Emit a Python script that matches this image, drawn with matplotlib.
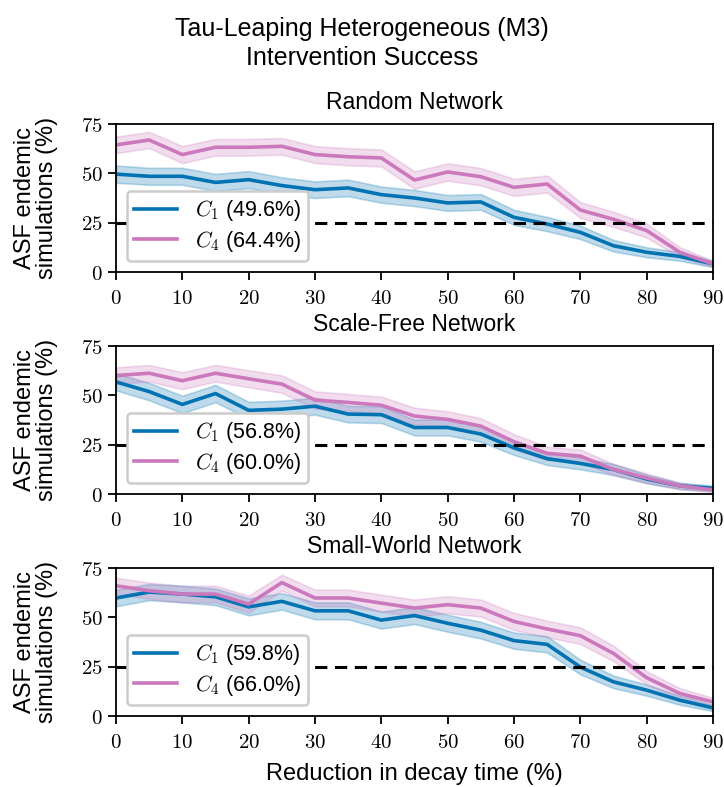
import matplotlib
matplotlib.use('Agg')
import matplotlib.pyplot as plt
import matplotlib.ticker as ticker
import numpy as np

plt.rcParams['font.family'] = ['Liberation Sans', 'DejaVu Sans']
plt.rcParams['mathtext.fontset'] = 'cm'

# == data
reduction = [0, 5, 10, 15, 20, 25, 30, 35, 40, 45, 50, 55, 60, 65, 70, 75, 80, 85, 90]

networks = ['Random Network', 'Scale-Free Network', 'Small-World Network']

random_c1 = [49.6, 48.5, 48.5, 45.4, 46.8, 43.8, 41.7, 42.6, 39.2, 37.5, 35.0, 35.5, 27.7, 24.3, 20.1, 13.3, 10.0, 7.9, 4.1]
random_c4 = [64.4, 66.9, 59.5, 63.2, 63.2, 63.7, 59.5, 58.4, 57.8, 46.6, 50.7, 48.3, 42.9, 44.6, 31.4, 26.7, 21.0, 10.0, 4.1]
scalefree_c1 = [56.8, 51.9, 45.4, 50.9, 42.4, 43.0, 44.5, 40.5, 40.2, 33.7, 33.7, 30.4, 23.4, 17.9, 15.5, 12.4, 7.6, 4.1, 2.9]
scalefree_c4 = [60.0, 61.2, 57.4, 61.2, 58.4, 55.7, 47.6, 46.4, 45.0, 39.5, 37.8, 34.4, 26.5, 20.6, 19.2, 12.4, 8.1, 4.1, 2.1]
smallworld_c1 = [59.8, 62.8, 61.8, 60.4, 55.3, 58.1, 53.3, 53.3, 48.6, 50.9, 47.0, 43.5, 38.2, 36.3, 24.8, 17.3, 13.1, 8.0, 4.1]
smallworld_c4 = [66.0, 63.5, 61.8, 61.8, 56.7, 67.6, 59.8, 59.8, 57.2, 54.7, 56.4, 54.7, 47.9, 44.1, 40.7, 31.7, 19.4, 11.4, 7.1]

# half-widths of the shaded bands (estimated by eye)
random_c1_ci = [4.4, 4.3, 4.3, 4.3, 4.3, 4.2, 4.2, 4.2, 4.1, 4.1, 4.0, 4.0, 3.8, 3.6, 3.4, 2.9, 2.5, 2.2, 1.6]
random_c4_ci = [4.2, 4.1, 4.3, 4.2, 4.2, 4.2, 4.3, 4.3, 4.3, 4.4, 4.4, 4.4, 4.3, 4.3, 4.0, 3.8, 3.5, 2.5, 1.6]
scalefree_c1_ci = [4.3, 4.4, 4.4, 4.4, 4.3, 4.3, 4.3, 4.2, 4.2, 4.0, 4.0, 3.9, 3.6, 3.2, 3.0, 2.8, 2.2, 1.6, 1.4]
scalefree_c4_ci = [4.2, 4.2, 4.3, 4.2, 4.3, 4.4, 4.4, 4.3, 4.3, 4.2, 4.1, 4.0, 3.8, 3.4, 3.3, 2.8, 2.3, 1.6, 1.2]
smallworld_c1_ci = [4.2, 4.1, 4.2, 4.2, 4.3, 4.2, 4.3, 4.3, 4.3, 4.3, 4.3, 4.2, 4.1, 4.1, 3.7, 3.2, 2.8, 2.3, 1.6]
smallworld_c4_ci = [4.0, 4.1, 4.2, 4.2, 4.3, 4.0, 4.2, 4.2, 4.3, 4.3, 4.3, 4.3, 4.3, 4.2, 4.2, 3.9, 3.3, 2.7, 2.1]

panel_c1 = [random_c1, scalefree_c1, smallworld_c1]
panel_c4 = [random_c4, scalefree_c4, smallworld_c4]
panel_c1_ci = [random_c1_ci, scalefree_c1_ci, smallworld_c1_ci]
panel_c4_ci = [random_c4_ci, scalefree_c4_ci, smallworld_c4_ci]

threshold = 25
col_c1 = '#0173b2'
col_c4 = '#cc78bc'

fig = plt.figure(figsize=(7.24, 7.87), dpi=100)
tops = [124, 346, 568]
height = 148
left, right = 116, 713

for i, name in enumerate(networks):
    ax = fig.add_axes([left / 724, 1 - (tops[i] + height) / 787, (right - left) / 724, height / 787])
    x = np.array(reduction)
    for vals, ci, col, tag in [(panel_c1[i], panel_c1_ci[i], col_c1, 'C_1'),
                               (panel_c4[i], panel_c4_ci[i], col_c4, 'C_4')]:
        v = np.array(vals)
        c = np.array(ci)
        ax.fill_between(x, v - c, v + c, color=col, alpha=0.25, linewidth=1.2)
        ax.plot(x, v, color=col, linewidth=2.6, label='${}$ ({:.1f}%)'.format(tag, vals[0]))
    ax.axhline(threshold, color='black', linestyle='--', linewidth=2.2, dashes=(4, 2.5))
    ax.set_xlim(0, 90)
    ax.set_ylim(0, 75)
    ax.xaxis.set_major_locator(ticker.MultipleLocator(10))
    ax.yaxis.set_major_locator(ticker.MultipleLocator(25))
    ax.xaxis.set_major_formatter(ticker.FuncFormatter(lambda v, p: '${:d}$'.format(int(v))))
    ax.yaxis.set_major_formatter(ticker.FuncFormatter(lambda v, p: '${:d}$'.format(int(v))))
    ax.tick_params(labelsize=15, width=1.3, length=5.5, pad=4)
    ax.tick_params(axis='x', pad=7)
    for s in ax.spines.values():
        s.set_linewidth(1.3)
    ax.set_title(name, fontsize=16.5, pad=11)
    ax.set_ylabel('ASF endemic\nsimulations (%)', fontsize=17, linespacing=1.0)
    ax.yaxis.set_label_coords(-0.097, 0.5)
    leg = ax.legend(loc='lower left', fontsize=15.5, handlelength=2.0, borderpad=0.35,
                    labelspacing=0.25, framealpha=1.0, edgecolor='#cccccc')
    leg.get_frame().set_linewidth(1.8)
    if i == 2:
        ax.set_xlabel('Reduction in decay time (%)', fontsize=17, labelpad=8)

fig.suptitle('Tau-Leaping Heterogeneous (M3)\nIntervention Success', fontsize=18, y=0.979, linespacing=1.3)

plt.savefig('out.png', dpi=100)
